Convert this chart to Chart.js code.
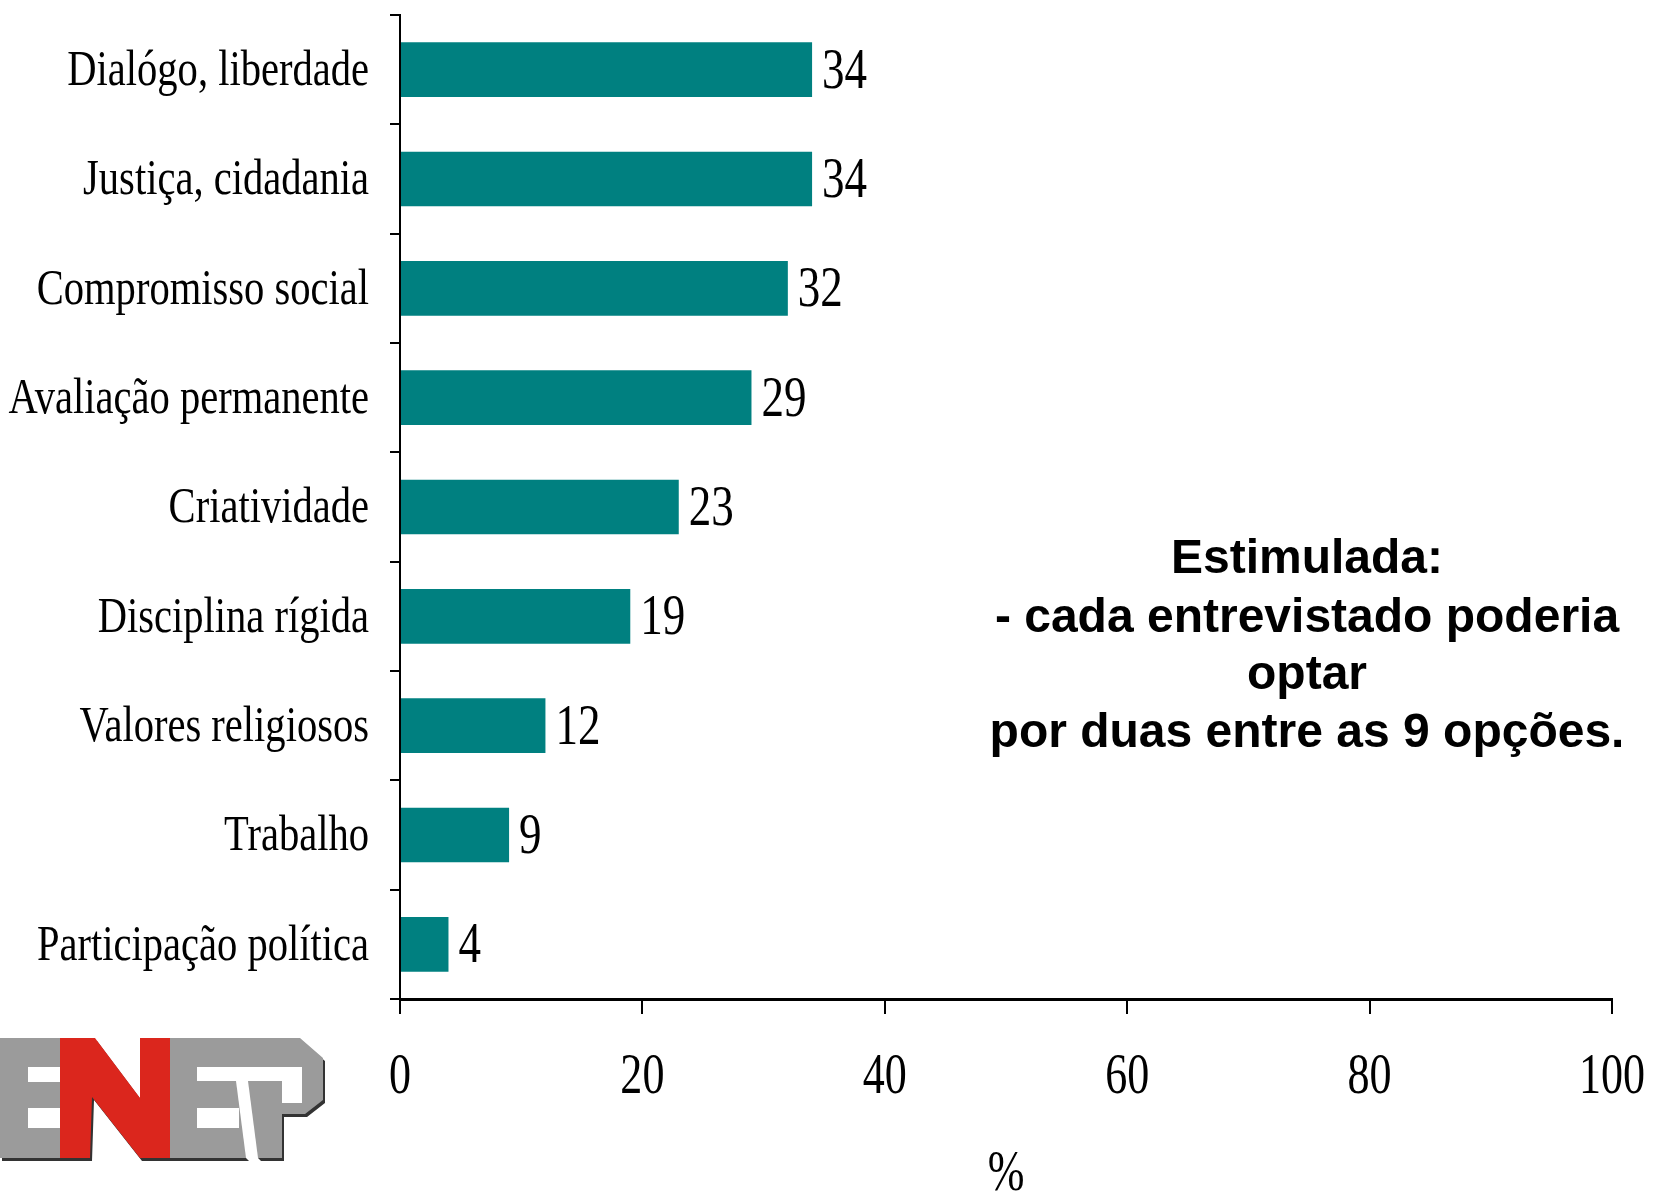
<!DOCTYPE html>
<html>
<head>
<meta charset="utf-8">
<script src="https://cdn.jsdelivr.net/npm/chart.js@4"></script>
<style>
  html, body { margin: 0; padding: 0; background: #fff; }
  #wrap { width: 1654px; height: 1194px; }
</style>
</head>
<body>
<div id="wrap"><canvas id="chart" width="1654" height="1194"></canvas></div>
<script>
const categories = ['Dialógo, liberdade', 'Justiça, cidadania', 'Compromisso social', 'Avaliação permanente',
  'Criatividade', 'Disciplina rígida', 'Valores religiosos', 'Trabalho', 'Participação política'];
const values = [34, 34, 32, 29, 23, 19, 12, 9, 4];
const xTicks = [0, 20, 40, 60, 80, 100];
const xTitle = '%';
const noteLines = ['Estimulada:', '- cada entrevistado poderia', 'optar', 'por duas entre as 9 opções.'];

const SERIF = '"Liberation Serif", "Times New Roman", serif';

// the original uses a squashed Times, so text is drawn a bit narrow
function narrowText(ctx, txt, x, y, size, sx, align) {
  ctx.save();
  ctx.font = size + 'px ' + SERIF;
  ctx.fillStyle = '#000';
  ctx.textAlign = align;
  ctx.textBaseline = 'middle';
  ctx.translate(x, y);
  ctx.scale(sx, 1);
  ctx.fillText(txt, 0, 0);
  ctx.restore();
}

// tick labels, axis title and value labels
const labels = {
  id: 'labels',
  afterDatasetsDraw(chart) {
    const ctx = chart.ctx;
    const xs = chart.scales.x, ys = chart.scales.y;
    const area = chart.chartArea;

    ys.ticks.forEach((t, i) => {
      narrowText(ctx, categories[i], ys.right - 31, ys.getPixelForTick(i) + 2, 51, 0.795, 'right');
    });
    xs.ticks.forEach((t, i) => {
      narrowText(ctx, String(t.value), xs.getPixelForTick(i), area.bottom + 79, 58, 0.76, 'center');
    });
    narrowText(ctx, xTitle, (area.left + area.right) / 2, area.bottom + 176, 58, 0.76, 'center');

    chart.getDatasetMeta(0).data.forEach((bar, i) => {
      narrowText(ctx, String(values[i]), bar.x + 10, bar.y + 3, 57, 0.79, 'left');
    });
  }
};

function poly(ctx, pts, col, dx, dy) {
  ctx.beginPath();
  pts.forEach((p, k) => k ? ctx.lineTo(p[0] + dx, p[1] + dy) : ctx.moveTo(p[0] + dx, p[1] + dy));
  ctx.closePath();
  ctx.fillStyle = col;
  ctx.fill();
}

// side note + ENEP logo
const extras = {
  id: 'extras',
  afterDraw(chart) {
    const ctx = chart.ctx;
    ctx.save();
    ctx.font = 'bold 48px "Liberation Sans", Arial, sans-serif';
    ctx.fillStyle = '#000';
    ctx.textAlign = 'center';
    ctx.textBaseline = 'middle';
    const ys = [560, 619, 676, 734];
    noteLines.forEach((t, i) => ctx.fillText(t, 1307, ys[i]));

    // logo, rough shapes
    const grey = '#9b9b9b', red = '#db261d', white = '#fff';
    const E1 = [[0,1038],[60,1038],[60,1130],[90,1158],[0,1158]];
    const N = [[60,1038],[95,1038],[140,1098],[140,1038],[170,1038],[170,1158],[140,1158],[92,1097],[90,1158],[60,1158]];
    const EP = [[170,1038],[300,1038],[323,1058],[323,1100],[305,1114],[282,1114],[282,1158],[170,1158]];
    [E1, N, EP].forEach(pts => poly(ctx, pts, '#333', 2, 3));
    poly(ctx, E1, grey, 0, 0);
    poly(ctx, N, red, 0, 0);
    poly(ctx, EP, grey, 0, 0);
    // white slots of the E's, the hole of the P and the slash between E and P
    ctx.fillStyle = white;
    ctx.fillRect(28, 1067, 32, 15);
    ctx.fillRect(28, 1108, 32, 20);
    ctx.fillRect(197, 1067, 105, 14);
    ctx.fillRect(282, 1067, 20, 36);
    ctx.fillRect(197, 1108, 42, 20);
    poly(ctx, [[236,1081],[248,1081],[258,1158],[246,1158]], white, 0, 0);
    poly(ctx, [[246,1158],[258,1158],[261,1161],[249,1161]], white, 0, 0);
    ctx.restore();
  }
};

new Chart(document.getElementById('chart'), {
  type: 'bar',
  data: {
    labels: categories,
    datasets: [{
      data: values,
      backgroundColor: '#008080',
      barPercentage: 0.5,
      categoryPercentage: 1.0
    }]
  },
  options: {
    indexAxis: 'y',
    responsive: false,
    devicePixelRatio: 1,
    animation: false,
    layout: { padding: { top: 15, right: 42, left: 0, bottom: 0 } },
    plugins: { legend: { display: false }, tooltip: { enabled: false } },
    scales: {
      x: {
        min: 0, max: 100,
        afterBuildTicks(scale) { scale.ticks = xTicks.map(v => ({ value: v })); },
        afterFit(scale) { scale.height = 195; },
        border: { color: '#000', width: 3 },
        grid: { drawOnChartArea: false, color: '#000', lineWidth: 2, tickLength: 15 },
        ticks: { display: false }
      },
      y: {
        afterFit(scale) { scale.width = 400; },
        border: { color: '#000', width: 2 },
        grid: { offset: true, drawOnChartArea: false, color: '#000', lineWidth: 2, tickLength: 10 },
        ticks: { display: false }
      }
    }
  },
  plugins: [labels, extras]
});
</script>
</body>
</html>
